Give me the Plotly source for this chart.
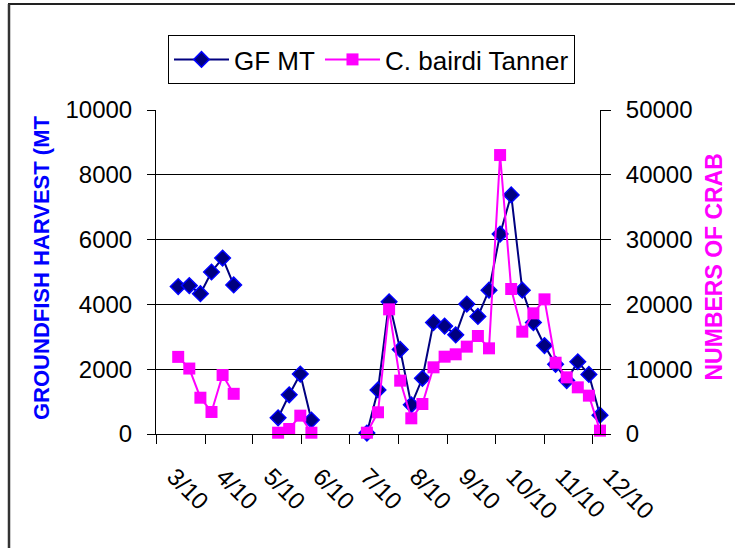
import plotly.graph_objects as go
import pandas as pd

# Weekly sample dates (2010), gaps marked with None
dates = pd.date_range("2010-03-15", "2010-12-06", freq="7D")

gf_group1 = [4550, 4580, 4330, 5000, 5430, 4600]
gf_group2 = [500, 1210, 1850, 430]
gf_group3 = [30, 1360, 4080, 2610, 900, 1720, 3440, 3330, 3060, 4010, 3630,
             4440, 6170, 7380, 4440, 3440, 2730, 2150, 1650, 2230, 1840, 580]

crab_group1 = [11900, 10100, 5600, 3400, 9100, 6200]
crab_group2 = [200, 770, 2830, 200]
crab_group3 = [200, 3350, 19240, 8230, 2420, 4630, 10290, 11930, 12300, 13480, 15120,
               13220, 43050, 22380, 15790, 18620, 20780, 11000, 8740, 7200, 5920, 520]

gap_a = [None] * 3
gap_b = [None] * 4
gf_mt = gf_group1 + gap_a + gf_group2 + gap_b + gf_group3
crab = crab_group1 + gap_a + crab_group2 + gap_b + crab_group3

left_title = "GROUNDFISH HARVEST (MT"
right_title = "NUMBERS OF CRAB"

FONT = "Liberation Sans, Arial, sans-serif"

# plot area in pixels
L, R, T, B = 156, 600, 110, 434
W, H = 735, 548


def px_x(p):
    return (p - L) / (R - L)


def px_y(p):
    return (B - p) / (B - T)


fig = go.Figure()
fig.add_trace(go.Scatter(
    x=dates, y=gf_mt, name="GF MT", mode="lines+markers",
    line=dict(color="#000080", width=2),
    marker=dict(symbol="diamond", size=12, color="#000080",
                line=dict(color="#0000FF", width=1.5)),
    cliponaxis=False, connectgaps=False, yaxis="y"))
fig.add_trace(go.Scatter(
    x=dates, y=crab, name="C. bairdi Tanner", mode="lines+markers",
    line=dict(color="#FF00FF", width=2),
    marker=dict(symbol="square", size=12, color="#FF00FF",
                line=dict(color="#FF00FF", width=0)),
    cliponaxis=False, connectgaps=False, yaxis="y2"))

fig.update_layout(
    width=W, height=H,
    margin=dict(l=L, r=W - R, t=T, b=H - B, autoexpand=False),
    paper_bgcolor="white", plot_bgcolor="white",
    font=dict(family=FONT, size=24, color="black"),
    showlegend=True,
    legend=dict(orientation="h", x=px_x(168), y=px_y(35),
                xanchor="left", yanchor="top",
                bordercolor="black", borderwidth=1, bgcolor="white",
                font=dict(size=26, family=FONT), itemwidth=55,
                tracegroupgap=0),
    xaxis=dict(type="date", range=["2010-03-01", "2010-12-06"],
               dtick="M1", tick0="2010-03-01", tickformat="%-m/%y",
               tickangle=45, ticks="outside", ticklen=9, tickcolor="black",
               showline=True, linecolor="black", linewidth=1,
               showgrid=False, zeroline=False, automargin=False,
               ticklabelstandoff=9, ticklabelshift=18,
               tickfont=dict(size=24, family=FONT)),
    yaxis=dict(range=[0, 10000], dtick=2000, tickformat="d",
               ticks="outside", ticklen=8, tickcolor="black",
               showline=True, linecolor="black", linewidth=1,
               showgrid=True, gridcolor="black", gridwidth=1,
               zeroline=False, ticklabelstandoff=10, automargin=False,
               tickfont=dict(size=24, family=FONT)),
    yaxis2=dict(range=[0, 50000], dtick=10000, tickformat="d",
                overlaying="y", side="right",
                ticks="outside", ticklen=10, tickcolor="black",
                showline=True, linecolor="black", linewidth=1,
                showgrid=False, zeroline=False, ticklabelstandoff=10,
                automargin=False,
                tickfont=dict(size=24, family=FONT)),
    annotations=[
        dict(text=f"<b>{left_title}</b>", textangle=-90,
             xref="paper", yref="paper", x=px_x(41), y=px_y(422),
             xanchor="center", yanchor="bottom", showarrow=False,
             font=dict(size=22, color="#0000FF", family=FONT)),
        dict(text=f"<b>{right_title}</b>", textangle=-90,
             xref="paper", yref="paper", x=px_x(713), y=px_y(383),
             xanchor="center", yanchor="bottom", showarrow=False,
             font=dict(size=23, color="#FF00FF", family=FONT)),
    ],
    shapes=[
        dict(type="line", xref="paper", yref="paper",
             x0=px_x(8), x1=px_x(740), y0=px_y(4), y1=px_y(4),
             line=dict(color="#222222", width=2)),
        dict(type="line", xref="paper", yref="paper",
             x0=px_x(9), x1=px_x(9), y0=px_y(4), y1=px_y(560),
             line=dict(color="#333333", width=2.5)),
    ],
)

fig.write_html("out.html",
               config={"displayModeBar": False},
               post_script="document.body.style.margin='0px';")
